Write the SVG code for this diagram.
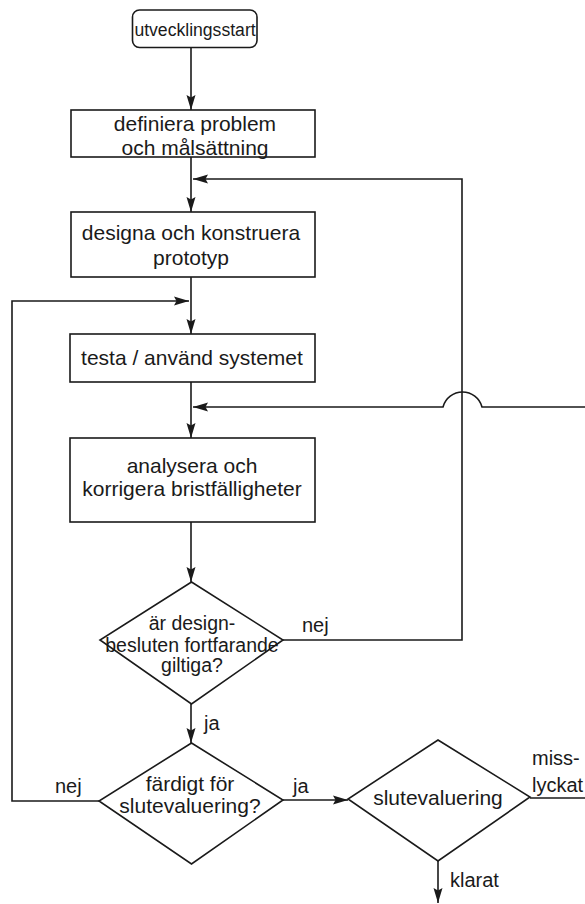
<svg xmlns="http://www.w3.org/2000/svg" width="585" height="904" viewBox="0 0 585 904">
  <style>
    .shape { fill: #fff; stroke: #1a1a1a; stroke-width: 1.6; }
    .wire { fill: none; stroke: #1a1a1a; stroke-width: 1.6; }
    text { font-family: "Liberation Sans", Arial, sans-serif; fill: #1a1a1a; }
    .t { font-size: 21px; text-anchor: middle; }
    .td { font-size: 19.5px; text-anchor: middle; }
    .ts { font-size: 17.6px; text-anchor: middle; }
    .lbl { font-size: 20px; }
  </style>
  <defs>
    <marker id="arrow" viewBox="0 0 16 10" refX="15" refY="5" markerWidth="16" markerHeight="10" markerUnits="userSpaceOnUse" orient="auto">
      <path d="M0,0.5 L15,5 L0,9.5 L2.5,5 z" fill="#1a1a1a"/>
    </marker>
  </defs>

  <!-- connectors -->
  <g id="connectors">
    <path class="wire" d="M191,48 V110" marker-end="url(#arrow)"/>
    <path class="wire" d="M191,157 V212" marker-end="url(#arrow)"/>
    <path class="wire" d="M191,277 V334" marker-end="url(#arrow)"/>
    <path class="wire" d="M191,382 V438" marker-end="url(#arrow)"/>
    <path class="wire" d="M191,522 V582" marker-end="url(#arrow)"/>
    <path class="wire" d="M191,704 V743" marker-end="url(#arrow)"/>
    <!-- ja: to final evaluation -->
    <path class="wire" d="M283,800 H348" marker-end="url(#arrow)"/>
    <!-- klarat -->
    <path class="wire" d="M438,861 V903" marker-end="url(#arrow)"/>
    <!-- nej: back to design -->
    <path class="wire" d="M283,640 H462 V179 H193" marker-end="url(#arrow)"/>
    <!-- nej: back to testing -->
    <path class="wire" d="M99,801 H12 V301 H189" marker-end="url(#arrow)"/>
    <!-- misslyckat: back to analysis, hopping over the vertical line -->
    <path class="wire" d="M530,798 H586"/>
    <path class="wire" d="M586,407 H482 A20.2,20.2 0 0 0 443,407 H193" marker-end="url(#arrow)"/>
  </g>

  <g id="start">
    <rect class="shape" x="132.5" y="10" width="124.5" height="37.5" rx="7"/>
    <text class="ts" x="195" y="36">utvecklingsstart</text>
  </g>

  <g id="definiera">
    <rect class="shape" x="71" y="110" width="244" height="47"/>
    <text class="t" x="195" y="130.5">definiera problem</text>
    <text class="t" x="195" y="154.5">och målsättning</text>
  </g>

  <g id="designa">
    <rect class="shape" x="71" y="212" width="244" height="65"/>
    <text class="t" x="191" y="239.5">designa och konstruera</text>
    <text class="t" x="191" y="264.5">prototyp</text>
  </g>

  <g id="testa">
    <rect class="shape" x="70" y="334" width="245" height="48"/>
    <text class="t" x="192" y="365">testa / använd systemet</text>
  </g>

  <g id="analysera">
    <rect class="shape" x="70" y="438" width="245" height="84"/>
    <text class="t" x="192" y="473">analysera och</text>
    <text class="t" x="192" y="496">korrigera bristfälligheter</text>
  </g>

  <g id="giltiga">
    <polygon class="shape" points="191.5,582 283,640 191.5,704 100,640"/>
    <text class="td" x="192" y="630">är design-</text>
    <text class="td" x="192" y="652">besluten fortfarande</text>
    <text class="td" x="192" y="672">giltiga?</text>
  </g>

  <g id="fardigt">
    <polygon class="shape" points="191.5,743 283,800 191.5,864 99,801"/>
    <text class="t" x="190" y="791">färdigt för</text>
    <text class="t" x="190" y="813">slutevaluering?</text>
  </g>

  <g id="slutevaluering">
    <polygon class="shape" points="438,740 530,797 438,861 348,799"/>
    <text class="t" x="438" y="805">slutevaluering</text>
  </g>

  <g id="labels">
    <text class="lbl" x="302" y="632">nej</text>
    <text class="lbl" x="204" y="730">ja</text>
    <text class="lbl" x="55" y="793">nej</text>
    <text class="lbl" x="293" y="793">ja</text>
    <text class="lbl" x="532" y="765">miss-</text>
    <text class="lbl" x="532" y="792">lyckat</text>
    <text class="lbl" x="450" y="887">klarat</text>
  </g>
</svg>
